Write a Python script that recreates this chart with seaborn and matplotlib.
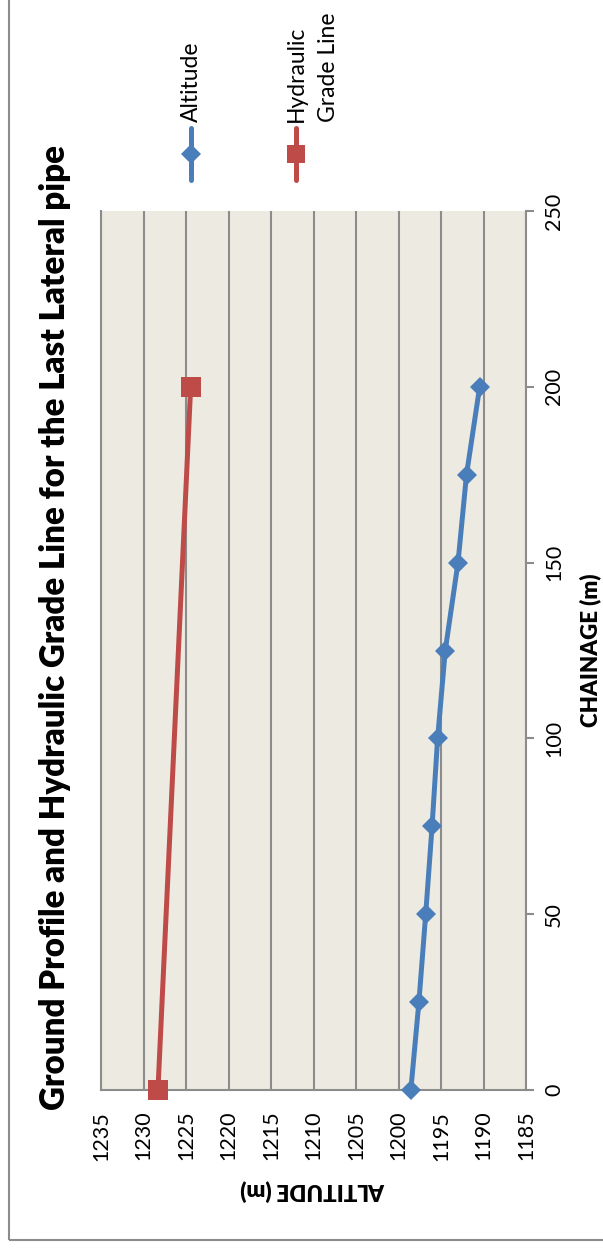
import matplotlib
matplotlib.use("Agg")
import matplotlib.pyplot as plt
from matplotlib.lines import Line2D
from matplotlib.patches import Rectangle
import seaborn as sns
import pandas as pd

# Survey data along the last lateral pipe
chainage = [0, 25, 50, 75, 100, 125, 150, 175, 200]
altitude = [1198.55, 1197.6, 1196.8, 1196.05, 1195.4, 1194.5, 1193.0, 1192.0, 1190.45]
hgl_chainage = [0, 200]
hgl_level = [1228.3, 1224.45]

altitude_ticks = list(range(1235, 1184, -5))
chainage_ticks = list(range(0, 251, 50))

title = "Ground Profile and Hydraulic Grade Line for the Last Lateral pipe"
series_names = ["Altitude", "Hydraulic\nGrade Line"]

BLUE = "#4A7EBB"
RED = "#BE4B48"
GRID = "#8C8C8C"

sns.set_style("white")
plt.rcParams["font.family"] = ["Lato", "DejaVu Sans"]
plt.rcParams["text.color"] = "black"
plt.rcParams["xtick.labelcolor"] = "black"
plt.rcParams["ytick.labelcolor"] = "black"

ground = pd.DataFrame({"chainage": chainage, "altitude": altitude})
hgl = pd.DataFrame({"chainage": hgl_chainage, "altitude": hgl_level})

W, H = 603, 1250
fig = plt.figure(figsize=(W / 100, H / 100), dpi=100)
fig.patch.set_facecolor("white")

# chart is laid out sideways: altitude runs across, chainage runs upward
ax = fig.add_axes([101 / W, (H - 1090) / H, 425 / W, 879 / H])
ax.set_facecolor("#EDEBE1")

sns.lineplot(data=ground, x="altitude", y="chainage", orient="y", ax=ax,
             color=BLUE, lw=3.6, marker="D", markersize=10,
             markeredgewidth=0, clip_on=False, zorder=4)
sns.lineplot(data=hgl, x="altitude", y="chainage", orient="y", ax=ax,
             color=RED, lw=3.6, marker="s", markersize=14,
             markeredgewidth=0, clip_on=False, zorder=4)

ax.set_xlim(1235, 1185)
ax.set_ylim(0, 250)
ax.set_xticks(altitude_ticks)
ax.set_yticks(chainage_ticks)
ax.set_xticklabels([str(t) for t in altitude_ticks], rotation=90, fontsize=15.5)
ax.set_yticklabels([str(t) for t in chainage_ticks], rotation=90, fontsize=15.5,
                   va="center")
ax.yaxis.tick_right()
ax.tick_params(axis="x", direction="out", length=6, width=1.5, color=GRID, pad=9)
ax.tick_params(axis="y", direction="out", length=6, width=1.5, color=GRID, pad=7,
               labelright=True, labelleft=False)

ax.grid(axis="x", color=GRID, lw=1.5)
ax.grid(axis="y", visible=False)
ax.set_axisbelow(True)
for side in ["left", "right", "bottom"]:
    ax.spines[side].set_visible(True)
    ax.spines[side].set_color(GRID)
    ax.spines[side].set_linewidth(1.5)
ax.spines["top"].set_visible(False)

ax.set_xlabel("")
ax.set_ylabel("")
fig.text(313 / W, 1 - 1191 / H, "ALTITUDE (m)", rotation=180, ha="center",
         va="center", fontsize=16, fontweight="heavy")
fig.text(590 / W, 1 - 650 / H, "CHAINAGE (m)", rotation=90, ha="center",
         va="center", fontsize=16, fontweight="heavy")

fig.text(55 / W, 1 - 628 / H, title, rotation=90, ha="center", va="center",
         fontsize=23.8, fontweight="heavy")

# legend, drawn upright alongside the rotated chart
legend_spec = [(191, BLUE, "D", 10, series_names[0]),
               (296, RED, "s", 13, series_names[1])]
for x, col, mk, ms, name in legend_spec:
    fx = x / W
    fig.add_artist(Line2D([fx, fx], [1 - 180 / H, 1 - 128 / H],
                          transform=fig.transFigure, color=col, lw=3.6,
                          solid_capstyle="round"))
    fig.add_artist(Line2D([fx], [1 - 154 / H], transform=fig.transFigure,
                          color=col, marker=mk, markersize=ms,
                          markeredgewidth=0))
    fig.text(fx - 10 / W, 1 - 122 / H, name, rotation=90, ha="left",
             va="bottom", fontsize=16.5, linespacing=1.65)

# chart frame
fig.add_artist(Rectangle((9 / W, 10 / H), 1.2, 1.2, transform=fig.transFigure,
                         fill=False, edgecolor=GRID, lw=1.5))

fig.savefig("out.png", dpi=100)
